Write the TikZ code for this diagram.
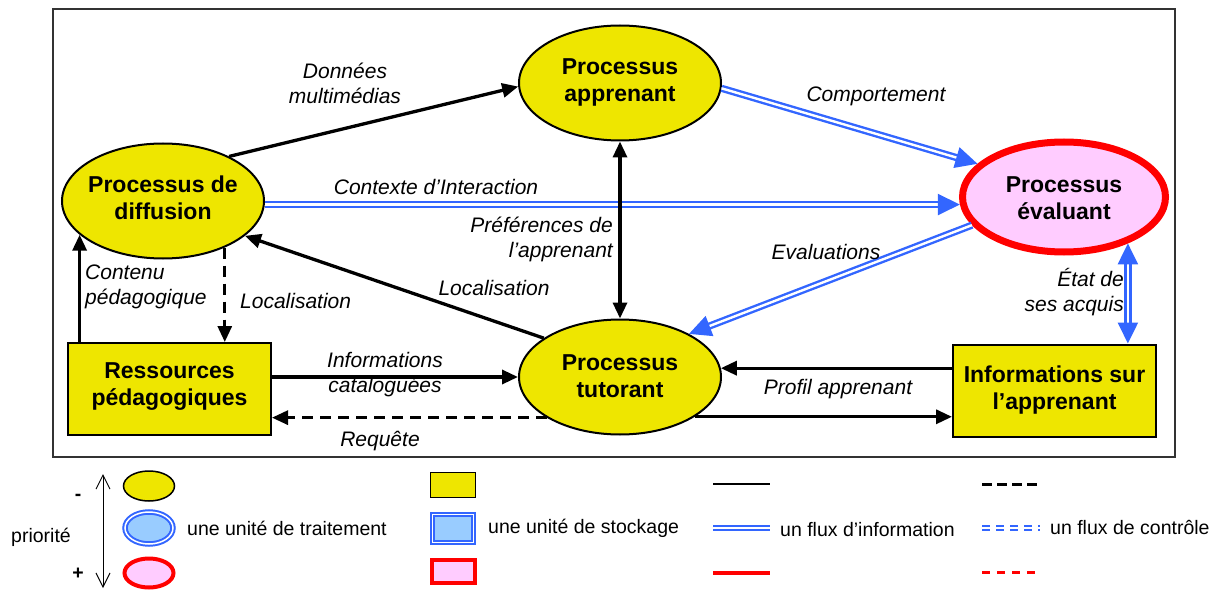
\documentclass[tikz,border=0pt]{standalone}
\usepackage{fontspec}
\setmainfont{Liberation Sans}
\usetikzlibrary{shapes.geometric,arrows.meta}
\definecolor{yel}{RGB}{238,230,0}
\definecolor{pinkfill}{RGB}{255,204,255}
\definecolor{flowblue}{RGB}{51,102,255}
\definecolor{lightblue}{RGB}{153,204,255}
\begin{document}
\begin{tikzpicture}[x=1pt,y=-1pt,
  proc/.style={ellipse,draw=black,line width=2pt,fill=yel,minimum width=202pt,minimum height=115pt,inner sep=0pt},
  evalproc/.style={ellipse,draw=red,line width=7pt,fill=pinkfill,minimum width=203pt,minimum height=110pt,inner sep=0pt},
  store/.style={rectangle,draw=black,line width=2pt,fill=yel,minimum width=203pt,minimum height=92pt,inner sep=0pt},
  ptext/.style={font=\bfseries\fontsize{23}{27}\selectfont,align=center,inner sep=0pt},
  lab/.style={font=\itshape\fontsize{21}{25}\selectfont,inner sep=0pt},
  legtext/.style={font=\fontsize{19.5}{23}\selectfont,inner sep=0pt,anchor=west},
  flow/.style={line width=3.3pt,-{Triangle[length=16pt,width=14pt]}},
  bflow/.style={line width=3.3pt,{Triangle[length=16pt,width=14pt]}-{Triangle[length=16pt,width=14pt]}},
  ctrl/.style={line width=3pt,dash pattern=on 11pt off 7pt,-{Triangle[length=16pt,width=14pt]}},
  info/.style={draw=flowblue,double=white,line width=2.4pt,double distance=2.4pt,-{Triangle[length=22pt,width=21pt]}},
  binfo/.style={draw=flowblue,double=white,line width=2.4pt,double distance=2.4pt,{Triangle[length=21pt,width=20pt]}-{Triangle[length=21pt,width=20pt]}}
]
\useasboundingbox (0,0) rectangle (1216,591);
\draw[line width=1.2pt,black!80] (53,9) rectangle (1175,457);

% nodes
\node[proc] (appr) at (620,83) {};
\node[ptext] (apprt) at (620,82) {Processus\\apprenant};
\node[proc] (diff) at (163,201) {};
\node[ptext] (difft) at (163,198) {Processus de\\diffusion};
\node[evalproc] (eval) at (1064,197) {};
\node[ptext] (evalt) at (1064,198) {Processus\\évaluant};
\node[proc] (tut) at (620,377) {};
\node[ptext] (tutt) at (620,376) {Processus\\tutorant};
\node[store] (res) at (169.5,389) {};
\node[ptext] (rest) at (169.5,387) {Ressources\\pédagogiques};
\node[store] (inf) at (1054.5,390.5) {};
\node[ptext] (inft) at (1054.5,390) {Informations sur\\l’apprenant};

% connectors
\draw[flow] (diff.34.5) -- (appr.182);
\draw[info] (appr.-3) -- (eval.159.8);
\draw[info] (diff.-2.3) -- (eval.184.4 |- diff.-2.3);
\draw[bflow] (appr.south) -- (tut.north);
\draw[info] (eval.197.7) -- (tut.32);
\draw[flow] (tut.153.7) -- (diff.-23.8);
\draw[ctrl] (diff.-37.7) -- (diff.-37.7 |- res.north);
\draw[flow] (res.north -| diff.202) -- (diff.202);
\draw[flow] (res.east |- tut.west) -- (tut.west);
\draw[ctrl] (tut.209.4) -- (res.east |- tut.209.4);
\draw[flow] (inf.west |- tut.5) -- (tut.5);
\draw[flow] (tut.-28.3) -- (inf.west |- tut.-28.3);
\draw[binfo] (eval.-36) -- (eval.-36 |- inf.north);

% labels
\node[lab,align=center] (l1) at (345,83) {Données\\multimédias};
\node[lab] (l2) at (876,96) {Comportement};
\node[lab] (l3) at (436,187) {Contexte d’Interaction};
\node[lab,align=right,anchor=east] (l4) at (613,239) {Préférences de\\l’apprenant};
\node[lab] (l5) at (826,252) {Evaluations};
\node[lab] (l6) at (494,288) {Localisation};
\node[lab,align=left,anchor=west] (l7) at (85,287) {Contenu\\pédagogique};
\node[lab,anchor=west] (l8) at (240,301) {Localisation};
\node[lab,align=center] (l9) at (385,375) {Informations\\cataloguées};
\node[lab] (l10) at (380,441) {Requête};
\node[lab] (l11) at (838,389) {Profil apprenant};
\node[lab,align=right,anchor=east] (l12) at (1124,292) {État de\\ses acquis};

% legend
\node[font=\fontsize{19.5}{23}\selectfont,inner sep=0pt] (prio) at (41,537) {priorité};
\node[font=\bfseries\fontsize{19.5}{23}\selectfont,inner sep=0pt] (minus) at (78,497) {-};
\node[font=\bfseries\fontsize{19.5}{23}\selectfont,inner sep=0pt] (plus) at (78,574) {+};
\coordinate (ptop) at (103,474);
\coordinate (pbot) at (103,588);
\draw[line width=1pt,{Straight Barb[length=14pt,width=14pt]}-{Straight Barb[length=14pt,width=14pt]}] (ptop) -- (pbot);

\node[ellipse,draw=black,line width=1.5pt,fill=yel,minimum width=51pt,minimum height=30pt,inner sep=0pt] (le1) at (149,486) {};
\node[ellipse,draw=flowblue,double=white,line width=2pt,double distance=1.5pt,fill=lightblue,minimum width=48pt,minimum height=32pt,inner sep=0pt] (le2) at (149,528) {};
\node[ellipse,draw=red,line width=4pt,fill=pinkfill,minimum width=49pt,minimum height=29pt,inner sep=0pt] (le3) at (149,573) {};
\node[legtext] (lt1) at (187,528) {une unité de traitement};

\node[rectangle,draw=black,line width=1.5pt,fill=yel,minimum width=45pt,minimum height=25pt,inner sep=0pt] (lr1) at (453,485) {};
\node[rectangle,draw=flowblue,double=white,line width=2pt,double distance=1.5pt,fill=lightblue,minimum width=41pt,minimum height=28pt,inner sep=0pt] (lr2) at (453,528.5) {};
\node[rectangle,draw=red,line width=4pt,fill=pinkfill,minimum width=43pt,minimum height=23pt,inner sep=0pt] (lr3) at (453,571) {};
\node[legtext] (lt2) at (488,528) {une unité de stockage};

\coordinate (a1) at (713,484); \coordinate (a2) at (770,484);
\draw[line width=1.5pt] (a1) -- (a2);
\coordinate (b1) at (713,528); \coordinate (b2) at (770,528);
\draw[draw=flowblue,double=white,line width=2.2pt,double distance=2pt] (b1) -- (b2);
\coordinate (c1) at (713,573); \coordinate (c2) at (770,573);
\draw[red,line width=4pt] (c1) -- (c2);
\node[legtext] (lt3) at (780,530) {un flux d’information};

\coordinate (d1) at (982,484); \coordinate (d2) at (1040,484);
\draw[line width=3pt,dash pattern=on 10pt off 5pt] (d1) -- (d2);
\coordinate (e1) at (982,528); \coordinate (e2) at (1040,528);
\draw[draw=flowblue,double=white,line width=2pt,double distance=2pt,dash pattern=on 8pt off 6pt] (e1) -- (e2);
\coordinate (f1) at (982,572); \coordinate (f2) at (1040,572);
\draw[red,line width=3pt,dash pattern=on 8pt off 7pt] (f1) -- (f2);
\node[legtext] (lt4) at (1050,527) {un flux de contrôle};
\end{tikzpicture}
\end{document}
